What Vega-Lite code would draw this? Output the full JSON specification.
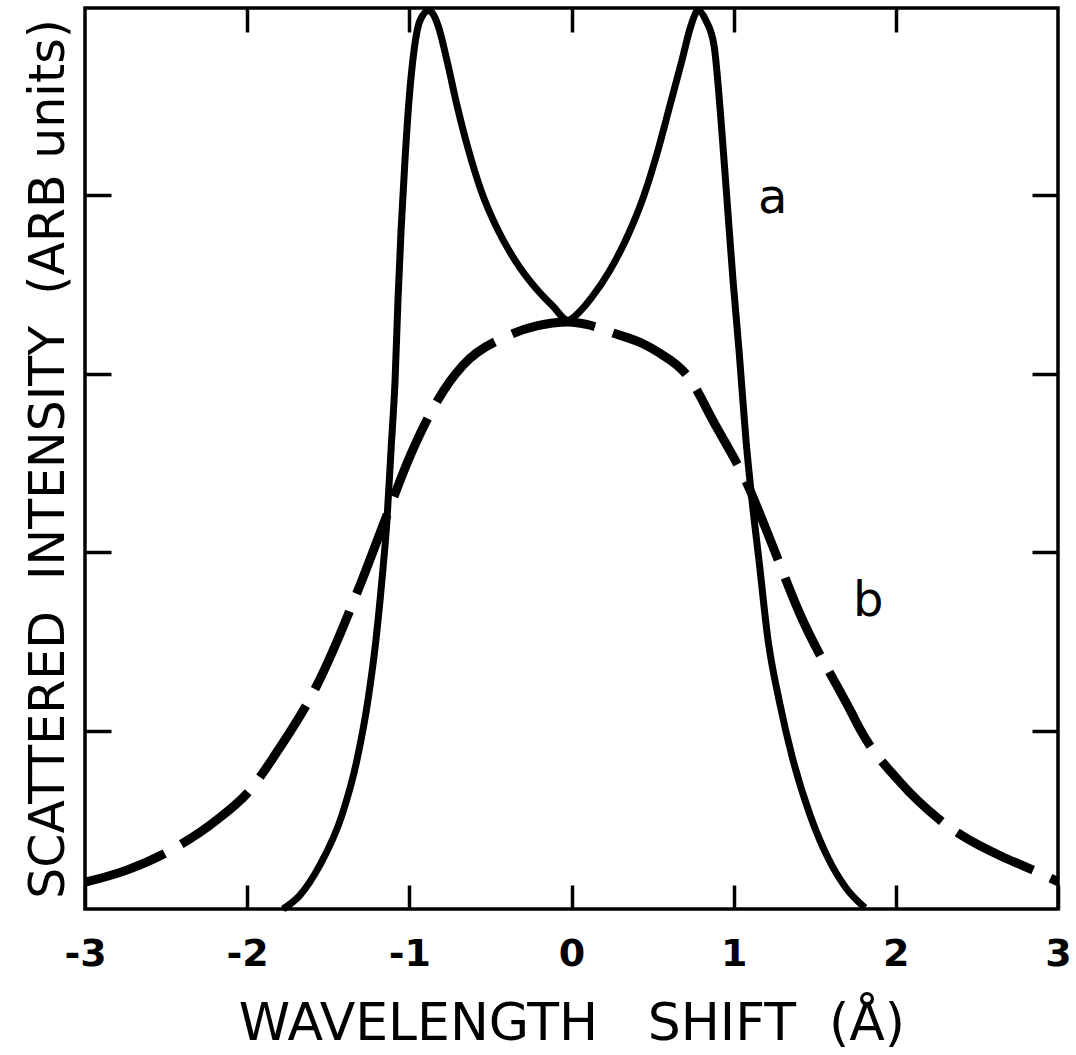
{
  "$schema": "https://vega.github.io/schema/vega-lite/v6.json",
  "width": 973,
  "height": 901,
  "autosize": {"type": "none"},
  "padding": {"left": 85, "top": 8, "right": 18, "bottom": 146},
  "background": "white",
  "config": {
    "view": {"stroke": "black", "strokeWidth": 3.5},
    "axis": {
      "domain": false,
      "grid": false,
      "tickColor": "black",
      "tickWidth": 3.5,
      "labelColor": "black",
      "titleColor": "black",
      "labelFont": "DejaVu Sans",
      "titleFont": "DejaVu Sans",
      "titleFontWeight": "normal"
    }
  },
  "datasets": {
    "a": [
      {"shift": -1.779, "intensity": 0},
      {"shift": -1.674, "intensity": 0.078},
      {"shift": -1.551, "intensity": 0.247},
      {"shift": -1.415, "intensity": 0.527},
      {"shift": -1.323, "intensity": 0.835},
      {"shift": -1.255, "intensity": 1.171},
      {"shift": -1.206, "intensity": 1.507},
      {"shift": -1.169, "intensity": 1.843},
      {"shift": -1.138, "intensity": 2.179},
      {"shift": -1.113, "intensity": 2.571},
      {"shift": -1.088, "intensity": 2.964},
      {"shift": -1.07, "intensity": 3.412},
      {"shift": -1.051, "intensity": 3.804},
      {"shift": -1.027, "intensity": 4.196},
      {"shift": -1.002, "intensity": 4.532},
      {"shift": -0.971, "intensity": 4.812},
      {"shift": -0.934, "intensity": 4.98},
      {"shift": -0.879, "intensity": 5.036},
      {"shift": -0.823, "intensity": 4.952},
      {"shift": -0.768, "intensity": 4.756},
      {"shift": -0.706, "intensity": 4.504},
      {"shift": -0.638, "intensity": 4.263},
      {"shift": -0.558, "intensity": 4.028},
      {"shift": -0.459, "intensity": 3.815},
      {"shift": -0.348, "intensity": 3.636},
      {"shift": -0.225, "intensity": 3.485},
      {"shift": -0.114, "intensity": 3.378},
      {"shift": -0.022, "intensity": 3.3},
      {"shift": 0.04, "intensity": 3.339},
      {"shift": 0.126, "intensity": 3.429},
      {"shift": 0.237, "intensity": 3.58},
      {"shift": 0.348, "intensity": 3.776},
      {"shift": 0.447, "intensity": 4.0},
      {"shift": 0.533, "intensity": 4.252},
      {"shift": 0.607, "intensity": 4.504},
      {"shift": 0.681, "intensity": 4.756},
      {"shift": 0.737, "intensity": 4.952},
      {"shift": 0.78, "intensity": 5.036},
      {"shift": 0.829, "intensity": 4.98},
      {"shift": 0.879, "intensity": 4.84},
      {"shift": 0.922, "intensity": 4.42},
      {"shift": 0.959, "intensity": 3.972},
      {"shift": 0.996, "intensity": 3.524},
      {"shift": 1.033, "intensity": 3.132},
      {"shift": 1.076, "intensity": 2.627},
      {"shift": 1.113, "intensity": 2.291},
      {"shift": 1.156, "intensity": 1.955},
      {"shift": 1.212, "intensity": 1.507},
      {"shift": 1.28, "intensity": 1.171},
      {"shift": 1.366, "intensity": 0.835},
      {"shift": 1.471, "intensity": 0.527},
      {"shift": 1.582, "intensity": 0.286},
      {"shift": 1.693, "intensity": 0.118},
      {"shift": 1.81, "intensity": 0.006}
    ],
    "b": [
      {"shift": -3, "intensity": 0.15},
      {"shift": -2.743, "intensity": 0.218},
      {"shift": -2.414, "intensity": 0.359},
      {"shift": -2.188, "intensity": 0.499},
      {"shift": -1.982, "intensity": 0.667},
      {"shift": -1.828, "intensity": 0.864},
      {"shift": -1.571, "intensity": 1.252},
      {"shift": -1.304, "intensity": 1.815},
      {"shift": -1.14, "intensity": 2.204},
      {"shift": -0.996, "intensity": 2.538},
      {"shift": -0.749, "intensity": 2.958},
      {"shift": -0.669, "intensity": 3.048},
      {"shift": -0.4, "intensity": 3.21},
      {"shift": -0.215, "intensity": 3.268},
      {"shift": -0.02, "intensity": 3.29},
      {"shift": 0.1, "intensity": 3.275},
      {"shift": 0.25, "intensity": 3.23},
      {"shift": 0.441, "intensity": 3.168},
      {"shift": 0.525, "intensity": 3.126},
      {"shift": 0.731, "intensity": 2.969},
      {"shift": 0.873, "intensity": 2.736},
      {"shift": 1.101, "intensity": 2.347},
      {"shift": 1.204, "intensity": 2.118},
      {"shift": 1.409, "intensity": 1.653},
      {"shift": 1.728, "intensity": 1.098},
      {"shift": 1.779, "intensity": 1.008},
      {"shift": 2.026, "intensity": 0.711},
      {"shift": 2.272, "intensity": 0.499},
      {"shift": 2.673, "intensity": 0.286},
      {"shift": 2.776, "intensity": 0.246},
      {"shift": 3, "intensity": 0.153}
    ],
    "labels": [
      {"shift": 1.24, "intensity": 3.98, "name": "a"},
      {"shift": 1.83, "intensity": 1.72, "name": "b"}
    ]
  },
  "layer": [
    {
      "data": {"name": "b"},
      "mark": {"type": "line", "color": "black", "strokeWidth": 9, "strokeDash": [85, 19], "strokeCap": "butt", "interpolate": "monotone"},
      "encoding": {
        "x": {
          "field": "shift", "type": "quantitative",
          "scale": {"domain": [-3, 3], "nice": false, "zero": false},
          "axis": {
            "orient": "bottom",
            "values": [-3, -2, -1, 0, 1, 2, 3],
            "labelExpr": "(datum.value < 0 ? '-' : '') + abs(datum.value)",
            "tickSize": -24,
            "labelFontSize": 38,
            "labelFontWeight": "bold",
            "labelPadding": 50,
            "labelFlush": false,
            "labelOverlap": false,
            "labelBound": false,
            "title": "WAVELENGTH\u00a0\u00a0\u00a0SHIFT\u00a0\u00a0(Å)",
            "titleFontSize": 52,
            "titlePadding": 25
          }
        },
        "y": {
          "field": "intensity", "type": "quantitative",
          "scale": {"domain": [0, 5.05], "nice": false, "zero": false},
          "axis": {
            "orient": "left",
            "values": [1, 2, 3, 4],
            "labels": false,
            "tickSize": -26,
            "title": "SCATTERED\u00a0\u00a0INTENSITY\u00a0\u00a0(ARB units)",
            "titleFontSize": 49,
            "titlePadding": 10
          }
        }
      }
    },
    {
      "data": {"name": "a"},
      "mark": {"type": "line", "color": "black", "strokeWidth": 7, "interpolate": "monotone"},
      "encoding": {
        "x": {
          "field": "shift", "type": "quantitative",
          "axis": {"orient": "top", "values": [-2, -1, 0, 1, 2], "labels": false, "tickSize": -24, "title": null}
        },
        "y": {
          "field": "intensity", "type": "quantitative",
          "axis": {"orient": "right", "values": [1, 2, 3, 4], "labels": false, "tickSize": -26, "title": null}
        }
      }
    },
    {
      "data": {"name": "labels"},
      "mark": {"type": "text", "color": "black", "font": "DejaVu Sans", "fontSize": 48, "align": "center", "baseline": "middle"},
      "encoding": {
        "x": {"field": "shift", "type": "quantitative", "axis": null},
        "y": {"field": "intensity", "type": "quantitative", "axis": null},
        "text": {"field": "name"}
      }
    }
  ],
  "resolve": {"axis": {"x": "independent", "y": "independent"}}
}
